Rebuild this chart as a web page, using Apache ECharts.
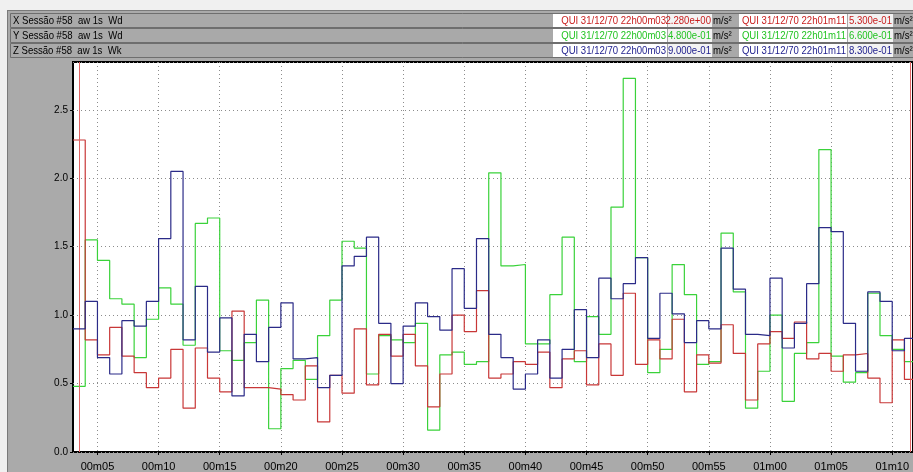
<!DOCTYPE html>
<html lang="pt">
<head>
<meta charset="UTF-8">
<title>Sessão #58</title>
<script src="https://cdn.jsdelivr.net/npm/echarts@6.0.0/dist/echarts.min.js"></script>
<style>
    body { margin: 0; background: #f0f0f0; }
    .wrap { position: relative; width: 913px; height: 472px; overflow: hidden; }
    .painel { position: absolute; left: 7px; top: 10px; width: 920px; height: 480px;
              background: #aaaaaa; border-left: 1px solid #7a7a7a; border-top: 1px solid #7a7a7a; }
    #chart { position: absolute; left: 0; top: 0; width: 913px; height: 472px; }
</style>
</head>
<body>
<div class="wrap">
    <div class="painel"></div>
    <div id="chart"></div>
</div>
<script>
// primeiro segundo dos dados (22h00m03), um valor por segundo
var startSec = 3;

// X aw 1s Wd (vermelho)
var redX = [2.28, 0.82, 0.71, 0.91, 0.70, 0.58, 0.47, 0.54, 0.75, 0.32,
            0.76, 0.54, 0.44, 1.03, 0.47, 0.47, 0.46, 0.42, 0.38, 0.63,
            0.22, 0.56, 0.43, 0.90, 0.49, 0.86, 0.70, 0.86, 0.63, 0.33,
            0.57, 1.00, 0.88, 1.18, 0.54, 0.57, 0.66, 0.64, 0.73, 0.47,
            0.68, 0.74, 0.49, 0.79, 0.56, 1.16, 0.64, 0.82, 0.68, 0.97,
            0.44, 0.71, 0.65, 0.93, 0.72, 0.38, 0.79, 0.88, 0.83, 0.95,
            0.68, 0.72, 0.59, 0.71, 0.72, 0.54, 0.36, 0.82, 0.53];
// Y aw 1s Wd (verde)
var greenY = [0.48, 1.55, 1.40, 1.12, 1.08, 0.69, 0.97, 1.20, 1.08, 0.78,
              1.67, 1.71, 0.74, 0.67, 0.80, 1.11, 0.17, 0.61, 0.67, 0.53,
              0.85, 1.11, 1.54, 1.49, 0.57, 0.85, 0.82, 0.80, 0.94, 0.16,
              0.71, 0.73, 0.64, 0.66, 2.04, 1.36, 1.37, 0.79, 0.79, 1.15,
              1.57, 0.66, 0.99, 0.86, 1.79, 2.73, 1.42, 0.58, 0.75, 1.37,
              1.15, 0.64, 0.66, 1.60, 1.17, 0.32, 0.59, 1.00, 0.37, 0.72,
              0.80, 2.21, 0.70, 0.51, 0.58, 1.16, 0.85, 0.75, 0.66];
// Z aw 1s Wk (azul)
var blueZ = [0.90, 1.10, 0.69, 0.57, 0.96, 0.92, 1.10, 1.56, 2.05, 0.82,
             1.21, 0.73, 0.98, 0.41, 0.86, 0.66, 0.91, 1.09, 0.68, 0.69,
             0.47, 0.56, 1.36, 1.43, 1.57, 0.94, 0.50, 0.92, 1.09, 0.99,
             0.89, 1.34, 1.05, 1.56, 0.86, 0.69, 0.46, 0.57, 0.82, 0.54,
             0.75, 1.04, 0.69, 1.27, 1.12, 1.23, 1.42, 0.83, 1.16, 1.01,
             0.80, 0.96, 0.90, 1.49, 1.19, 0.86, 0.85, 1.27, 0.76, 0.94,
             1.23, 1.64, 1.61, 0.94, 0.59, 1.17, 1.10, 0.74, 0.83];

var tickSecs = [5, 10, 15, 20, 25, 30, 35, 40, 45, 50, 55, 60, 65, 70];
var tickLabels = ['00m05', '00m10', '00m15', '00m20', '00m25', '00m30', '00m35',
                  '00m40', '00m45', '00m50', '00m55', '01m00', '01m05', '01m10'];

var rowNames = ['X Sessão #58  aw 1s  Wd', 'Y Sessão #58  aw 1s  Wd', 'Z Sessão #58  aw 1s  Wk'];
var cursorSecs = [3, 71];

var lineColors = ['#c83737', '#3ad23a', '#2b2b88'];
var textColors = ['#c81e1e', '#22c322', '#1c1c8c'];

function pad(n) {
    return (n < 10 ? '0' : '') + n;
}
function fmtTime(sec) {
    return 'QUI 31/12/70 22h' + pad(Math.floor(sec / 60)) + 'm' + pad(sec % 60);
}
function fmtExp(v) {
    var p = v.toExponential(3).split('e');
    var e = parseInt(p[1], 10);
    return p[0] + 'e' + (e < 0 ? '-' : '+') + pad(Math.abs(e));
}
// pontos para linha em degraus (cada valor vale um segundo inteiro)
function steps(vals) {
    var pts = [];
    for (var i = 0; i < vals.length; i++) {
        pts.push([startSec + i, vals[i]]);
    }
    pts.push([startSec + vals.length, vals[vals.length - 1]]);
    return pts;
}

var allSeries = [redX, greenY, blueZ];
var font = '11px "Liberation Sans", Arial, sans-serif';

// texto do cabeçalho um pouco estreitado (fonte original é mais condensada)
function headText(str, x, y, color, align) {
    return {
        type: 'text', silent: true, x: x, y: y, scaleX: 0.87,
        style: { text: str, x: 0, y: 0, fill: color, font: font, align: align || 'left', verticalAlign: 'middle' }
    };
}

// cabeçalho com as leituras dos cursores
var graphics = [];
for (var r = 0; r < 3; r++) {
    var rowTop = 13 + r * 15;
    var vals = allSeries[r];
    graphics.push({
        type: 'rect', silent: true,
        shape: { x: 10.5, y: rowTop + 0.5, width: 905, height: 14 },
        style: { fill: '#a9a9a9', stroke: '#6e6e6e', lineWidth: 1 }
    });
    graphics.push(headText(rowNames[r], 13, rowTop + 8, '#000'));
    var cells = [[553, 667, 712], [739, 847, 893]];
    for (var c = 0; c < 2; c++) {
        var cx = cells[c];
        var sec = cursorSecs[c];
        var v = vals[sec - startSec];
        graphics.push({
            type: 'rect', silent: true,
            shape: { x: cx[0], y: rowTop + 1, width: cx[1] - cx[0], height: 13 },
            style: { fill: '#ffffff' }
        });
        graphics.push({
            type: 'rect', silent: true,
            shape: { x: cx[1] + 1, y: rowTop + 1, width: cx[2] - cx[1] - 1, height: 13 },
            style: { fill: '#f3f3f3' }
        });
        graphics.push(headText(fmtTime(sec), cx[1] - 1, rowTop + 8, textColors[r], 'right'));
        graphics.push(headText(fmtExp(v), cx[2] - 1, rowTop + 8, textColors[r], 'right'));
        graphics.push(headText('m/s²', cx[2] + 1, rowTop + 8, '#000'));
    }
}

var seriesList = [];
var order = [1, 0, 2]; // verde por baixo, azul por cima
for (var k = 0; k < order.length; k++) {
    var idx = order[k];
    var s = {
        type: 'line',
        step: 'end',
        symbol: 'none',
        data: steps(allSeries[idx]),
        lineStyle: { width: 1.2, color: lineColors[idx] },
        z: 3 + k
    };
    if (idx === 0) {
        s.markLine = {
            silent: true,
            symbol: 'none',
            label: { show: false },
            lineStyle: { color: '#e06464', width: 1, type: 'solid' },
            data: cursorSecs.map(function (t) { return { xAxis: t + 0.5 }; })
        };
    }
    seriesList.push(s);
}

var myChart = echarts.init(document.getElementById('chart'));
var option = {
    animation: false,
    graphic: { elements: graphics },
    grid: {
        left: 73, top: 62, right: -1, bottom: 11,
        show: true, backgroundColor: '#ffffff', borderColor: '#000', borderWidth: 2
    },
    xAxis: {
        type: 'value',
        min: startSec,
        max: 71.7,
        axisLine: { show: false },
        axisTick: { show: true, customValues: tickSecs, length: 3, lineStyle: { color: '#000' } },
        axisLabel: {
            customValues: tickSecs,
            color: '#000', fontSize: 11, margin: 9,
            fontFamily: '"Liberation Sans", Arial, sans-serif',
            formatter: function (v) { return tickLabels[tickSecs.indexOf(v)]; }
        },
        splitLine: { show: true, lineStyle: { type: [1, 3], color: '#8c8c8c' } }
    },
    yAxis: {
        type: 'value',
        min: 0,
        max: 2.85,
        interval: 0.5,
        axisLine: { show: false },
        axisTick: { show: true, length: 3, lineStyle: { color: '#000' } },
        axisLabel: {
            color: '#000', fontSize: 10, margin: 5, showMaxLabel: false,
            fontFamily: '"Liberation Sans", Arial, sans-serif',
            formatter: function (v) { return v.toFixed(1); }
        },
        splitLine: { show: true, lineStyle: { type: [1, 3], color: '#8c8c8c' } }
    },
    series: seriesList
};
myChart.setOption(option);
</script>
</body>
</html>
